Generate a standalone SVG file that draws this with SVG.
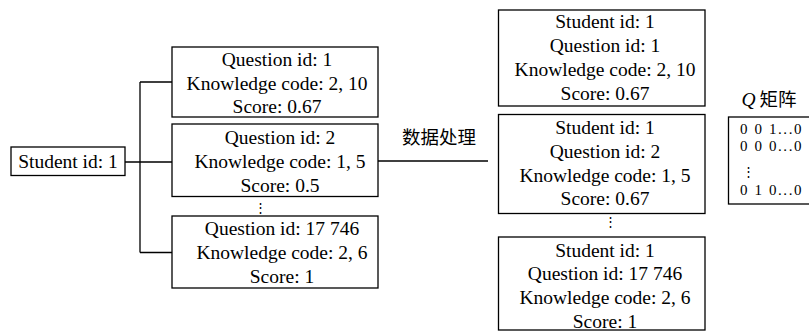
<svg xmlns="http://www.w3.org/2000/svg" width="809" height="331" viewBox="0 0 809 331">
<style>
.box{fill:#fff;stroke:#000;stroke-width:1.3}
.ln{fill:none;stroke:#000;stroke-width:1.3}
text{font-family:"Liberation Serif","Times New Roman","Noto Sans CJK SC",serif;font-size:19.5px;fill:#000}
.c{text-anchor:middle}
.dots{font-family:"DejaVu Serif",serif;font-size:13px}
.cjk{font-family:"Noto Sans CJK SC",sans-serif;font-size:18.5px}
.m{font-size:15px;letter-spacing:1.6px}
</style>
<rect width="809" height="331" fill="#fff"/>
<g id="connectors">
<path class="ln" d="M125 162H140M140 82V252.5M140 82H172M140 162H172M140 252.5H172"/>
<path class="ln" d="M378 161H488"/>
</g>
<g id="student">
<rect class="box" x="11" y="147" width="114" height="28.5"/>
<text x="68" y="167.5" class="c">Student id: 1</text>
</g>
<g id="q1">
<rect class="box" x="172" y="47" width="206" height="70"/>
<text x="277" y="66" class="c">Question id: 1</text>
<text x="277" y="90" class="c">Knowledge code: 2, 10</text>
<text x="277" y="113" class="c">Score: 0.67</text>
</g>
<g id="q2">
<rect class="box" x="172" y="124" width="206" height="72.5"/>
<text x="280" y="143.5" class="c">Question id: 2</text>
<text x="280" y="168" class="c">Knowledge code: 1, 5</text>
<text x="280" y="191.5" class="c">Score: 0.5</text>
</g>
<text x="260" y="212" class="c dots">⋮</text>
<g id="q3">
<rect class="box" x="172" y="216" width="206" height="72"/>
<text x="282" y="235" class="c">Question id: 17 746</text>
<text x="282" y="259" class="c">Knowledge code: 2, 6</text>
<text x="282" y="282.5" class="c">Score: 1</text>
</g>
<g id="process-label">
<text x="439" y="144" class="c cjk">数据处理</text>
</g>
<g id="r1">
<rect class="box" x="498.5" y="10" width="206.5" height="96"/>
<text x="605" y="27.5" class="c">Student id: 1</text>
<text x="605" y="51.5" class="c">Question id: 1</text>
<text x="605" y="75.5" class="c">Knowledge code: 2, 10</text>
<text x="605" y="99.5" class="c">Score: 0.67</text>
</g>
<g id="r2">
<rect class="box" x="498.5" y="114.5" width="206.5" height="99"/>
<text x="605" y="133.5" class="c">Student id: 1</text>
<text x="605" y="157.5" class="c">Question id: 2</text>
<text x="605" y="181.5" class="c">Knowledge code: 1, 5</text>
<text x="605" y="205" class="c">Score: 0.67</text>
</g>
<text x="610" y="226" class="c dots">⋮</text>
<g id="r3">
<rect class="box" x="498.5" y="237" width="206.5" height="93"/>
<text x="605" y="256.5" class="c">Student id: 1</text>
<text x="605" y="280" class="c">Question id: 17 746</text>
<text x="605" y="304" class="c">Knowledge code: 2, 6</text>
<text x="605" y="327.5" class="c">Score: 1</text>
</g>
<g id="qmatrix">
<text x="741.5" y="106"><tspan font-style="italic">Q</tspan><tspan class="cjk" dx="4" font-size="18.5px" font-family="Noto Sans CJK SC, sans-serif">矩阵</tspan></text>
<rect class="box" x="728.5" y="117" width="90" height="87"/>
<text x="740" y="133.5" class="m">0 0 1...0</text>
<text x="740" y="150.5" class="m">0 0 0...0</text>
<text x="742" y="176" class="dots">⋮</text>
<text x="740" y="194.5" class="m">0 1 0...0</text>
</g>
</svg>
